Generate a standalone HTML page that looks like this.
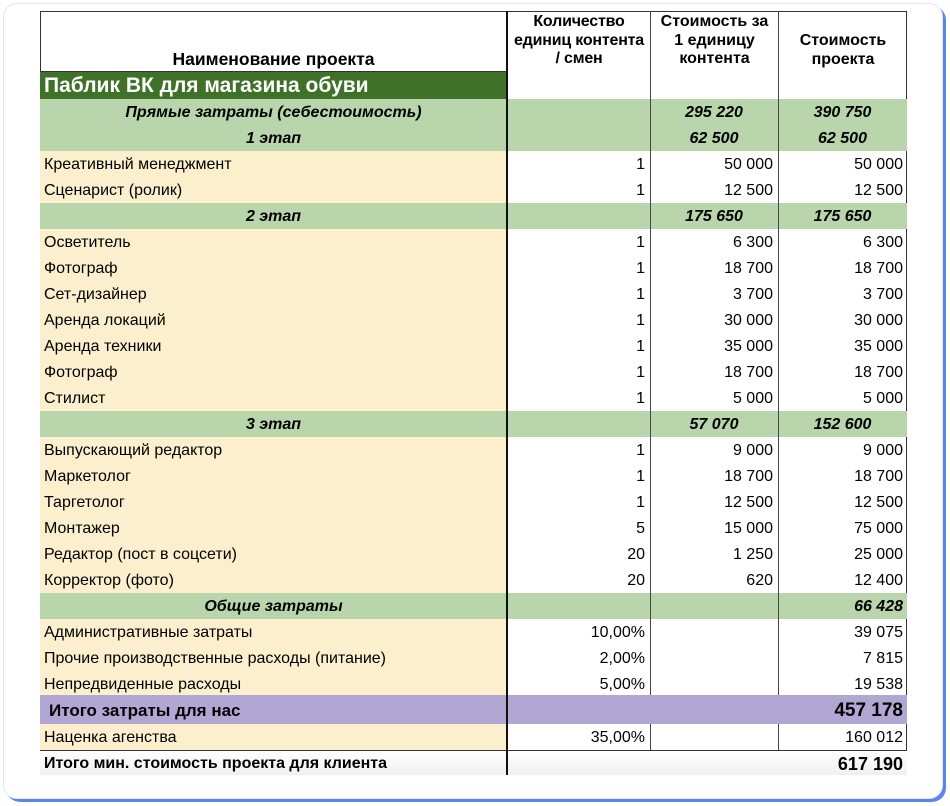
<!DOCTYPE html>
<html><head><meta charset="utf-8"><style>
body{margin:0;width:950px;height:806px;background:#fff;position:relative;overflow:hidden;font-family:"Liberation Sans",Arial,sans-serif;font-size:16px;color:#000}
.card{position:absolute;left:3px;top:3px;width:938px;height:794px;border-radius:14px;border:1px solid #e3e6ef;box-shadow:3px 3px 0 #5b86e6;background:#fff}
.tbl{position:absolute;left:40px;top:11px;width:867px;height:764px;border:1px solid #333;box-sizing:border-box}
.r{position:absolute;left:40px;width:867px;height:26px;display:flex;line-height:28px}
.r div{box-sizing:border-box;white-space:nowrap;overflow:hidden}
.c1{width:467px;padding-left:4px}.c2{width:143px;text-align:right;padding-right:5px}.c3{width:128px;text-align:right;padding-right:5px}.c4{width:129px;text-align:right;padding-right:4px}
.y .c1{background:#fcefcd}
.g{background:#b9d5ab;font-weight:bold;font-style:italic}
.g div{text-align:center;padding:0}
.v{position:absolute;top:11px;height:764px;background:#444;width:1px}
.h{position:absolute;text-align:center;font-weight:bold;line-height:18.5px;font-size:16px}
</style></head><body>
<div class="card"></div>
<div class="tbl"></div>
<div style="position:absolute;left:40px;top:11px;width:467px;height:61px;border-bottom:1px solid #333;box-sizing:border-box;text-align:center;font-weight:bold;font-size:17.5px;line-height:20px;padding-top:38px">Наименование проекта</div>
<div style="position:absolute;left:40px;top:72px;width:467px;height:27px;background:#3f7128;color:#fff;font-weight:bold;font-size:21px;line-height:28px;padding-left:4px;box-sizing:border-box">Паблик ВК для магазина обуви</div>
<div class="h" style="left:506px;top:13px;width:146px;letter-spacing:-0.2px">Количество<br>единиц контента<br>/ смен</div>
<div class="h" style="left:651px;top:13px;width:127px">Стоимость за<br>1 единицу<br>контента</div>
<div class="h" style="left:779px;top:32px;width:128px">Стоимость<br>проекта</div>

<div class="r g" style="top:99px"><div class="c1">Прямые затраты (себестоимость)</div><div class="c2"></div><div class="c3">295 220</div><div class="c4">390 750</div></div>
<div class="r g" style="top:125px"><div class="c1">1 этап</div><div class="c2"></div><div class="c3">62 500</div><div class="c4">62 500</div></div>
<div class="r y" style="top:151px"><div class="c1">Креативный менеджмент</div><div class="c2">1</div><div class="c3">50 000</div><div class="c4">50 000</div></div>
<div class="r y" style="top:177px"><div class="c1">Сценарист (ролик)</div><div class="c2">1</div><div class="c3">12 500</div><div class="c4">12 500</div></div>
<div class="r g" style="top:203px"><div class="c1">2 этап</div><div class="c2"></div><div class="c3">175 650</div><div class="c4">175 650</div></div>
<div class="r y" style="top:229px"><div class="c1">Осветитель</div><div class="c2">1</div><div class="c3">6 300</div><div class="c4">6 300</div></div>
<div class="r y" style="top:255px"><div class="c1">Фотограф</div><div class="c2">1</div><div class="c3">18 700</div><div class="c4">18 700</div></div>
<div class="r y" style="top:281px"><div class="c1">Сет-дизайнер</div><div class="c2">1</div><div class="c3">3 700</div><div class="c4">3 700</div></div>
<div class="r y" style="top:307px"><div class="c1">Аренда локаций</div><div class="c2">1</div><div class="c3">30 000</div><div class="c4">30 000</div></div>
<div class="r y" style="top:333px"><div class="c1">Аренда техники</div><div class="c2">1</div><div class="c3">35 000</div><div class="c4">35 000</div></div>
<div class="r y" style="top:359px"><div class="c1">Фотограф</div><div class="c2">1</div><div class="c3">18 700</div><div class="c4">18 700</div></div>
<div class="r y" style="top:385px"><div class="c1">Стилист</div><div class="c2">1</div><div class="c3">5 000</div><div class="c4">5 000</div></div>
<div class="r g" style="top:411px"><div class="c1">3 этап</div><div class="c2"></div><div class="c3">57 070</div><div class="c4">152 600</div></div>
<div class="r y" style="top:437px"><div class="c1">Выпускающий редактор</div><div class="c2">1</div><div class="c3">9 000</div><div class="c4">9 000</div></div>
<div class="r y" style="top:463px"><div class="c1">Маркетолог</div><div class="c2">1</div><div class="c3">18 700</div><div class="c4">18 700</div></div>
<div class="r y" style="top:489px"><div class="c1">Таргетолог</div><div class="c2">1</div><div class="c3">12 500</div><div class="c4">12 500</div></div>
<div class="r y" style="top:515px"><div class="c1">Монтажер</div><div class="c2">5</div><div class="c3">15 000</div><div class="c4">75 000</div></div>
<div class="r y" style="top:541px"><div class="c1">Редактор (пост в соцсети)</div><div class="c2">20</div><div class="c3">1 250</div><div class="c4">25 000</div></div>
<div class="r y" style="top:567px"><div class="c1">Корректор (фото)</div><div class="c2">20</div><div class="c3">620</div><div class="c4">12 400</div></div>
<div class="r g" style="top:593px"><div class="c1">Общие затраты</div><div class="c2"></div><div class="c3"></div><div class="c4" style="text-align:right;padding-right:4px">66 428</div></div>
<div class="r y" style="top:619px"><div class="c1">Административные затраты</div><div class="c2">10,00%</div><div class="c3"></div><div class="c4">39 075</div></div>
<div class="r y" style="top:645px"><div class="c1">Прочие производственные расходы (питание)</div><div class="c2">2,00%</div><div class="c3"></div><div class="c4">7 815</div></div>
<div class="r y" style="top:671px"><div class="c1">Непредвиденные расходы</div><div class="c2">5,00%</div><div class="c3"></div><div class="c4">19 538</div></div>
<div class="r" style="top:695px;height:29px;line-height:31px;background:#b2a7d3;font-weight:bold;font-size:17px"><div class="c1" style="padding-left:9px">Итого затраты для нас</div><div class="c2"></div><div class="c3"></div><div class="c4" style="font-size:19px">457 178</div></div>
<div class="r y" style="top:724px"><div class="c1">Наценка агенства</div><div class="c2">35,00%</div><div class="c3"></div><div class="c4">160 012</div></div>
<div class="r" style="top:750px;height:25px;line-height:26px;font-weight:bold;border-top:1px solid #333;box-sizing:border-box;background:linear-gradient(#fff,#f0f0f0)"><div class="c1">Итого мин. стоимость проекта для клиента</div><div class="c2"></div><div class="c3"></div><div class="c4" style="font-size:18px">617 190</div></div>

<div class="v" style="left:506px;width:2px;background:#111"></div>
<div class="v" style="left:650px;top:11px;height:684px"></div>
<div class="v" style="left:778px;top:11px;height:684px"></div>
<div class="v" style="left:650px;top:724px;height:26px"></div>
<div class="v" style="left:778px;top:724px;height:26px"></div>
</body></html>
